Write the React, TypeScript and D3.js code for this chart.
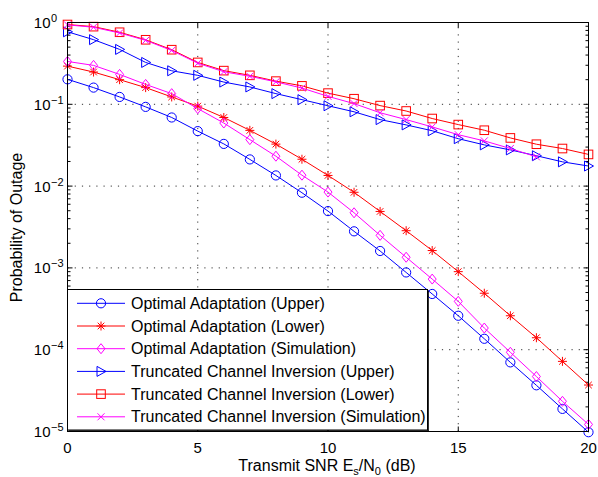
import React from 'react';
import * as d3 from 'd3';

// SNR in dB (x axis)
const snrDb = [0, 1, 2, 3, 4, 5, 6, 7, 8, 9, 10, 11, 12, 13, 14, 15, 16, 17, 18, 19, 20];
const snrSim = [0, 1, 2, 3, 4, 5, 6, 7, 8, 9, 10, 11, 12, 13, 14, 15, 16, 17, 18];

const optUpper = [0.202, 0.16, 0.123, 0.093, 0.069, 0.047, 0.0328, 0.0212, 0.0135, 0.0083, 0.00495,
  0.0028, 0.00161, 0.00088, 0.00048, 0.00026, 1.36e-4, 7.0e-5, 3.67e-5, 1.89e-5, 9.8e-6];
const optLower = [0.293, 0.248, 0.2, 0.16, 0.123, 0.095, 0.069, 0.048, 0.0326, 0.0213, 0.0135,
  0.0084, 0.0049, 0.00285, 0.00163, 0.0009, 0.00049, 0.00026, 1.4e-4, 7.2e-5, 3.7e-5];
const optSim = [0.334, 0.299, 0.232, 0.175, 0.135, 0.0886, 0.059, 0.037, 0.0232, 0.0136, 0.00845,
  0.00472, 0.0025, 0.00135, 7.3e-4, 3.9e-4, 1.84e-4, 9.3e-5, 4.7e-5, 2.34e-5, 1.22e-5];
const truncUpper = [0.77, 0.617, 0.469, 0.325, 0.257, 0.226, 0.187, 0.163, 0.135, 0.114, 0.096,
  0.081, 0.065, 0.056, 0.0475, 0.038, 0.0319, 0.0277, 0.0235, 0.0198, 0.0176];
const truncLower = [0.945, 0.89, 0.76, 0.615, 0.465, 0.325, 0.258, 0.226, 0.192, 0.168, 0.137,
  0.117, 0.0964, 0.0828, 0.067, 0.0565, 0.0482, 0.0388, 0.0325, 0.0288, 0.0244];
const truncSim = [0.935, 0.875, 0.745, 0.605, 0.455, 0.318, 0.25, 0.22, 0.188, 0.158, 0.125,
  0.102, 0.0788, 0.065, 0.0529, 0.0425, 0.0357, 0.0288, 0.0228];

const xTicks = [0, 5, 10, 15, 20];
const yExps = [0, -1, -2, -3, -4, -5];

const legendNames = [
  'Optimal Adaptation (Upper)',
  'Optimal Adaptation (Lower)',
  'Optimal Adaptation (Simulation)',
  'Truncated Channel Inversion (Upper)',
  'Truncated Channel Inversion (Lower)',
  'Truncated Channel Inversion (Simulation)',
];

const BLUE = '#0000ff', RED = '#ff0000', MAG = '#ff00ff';
const FONT = '"Liberation Sans", Arial, Helvetica, sans-serif';

const series = [
  { xs: snrDb, ys: optUpper, color: BLUE, marker: 'o' },
  { xs: snrDb, ys: optLower, color: RED, marker: '*' },
  { xs: snrDb, ys: optSim, color: MAG, marker: 'd' },
  { xs: snrDb, ys: truncUpper, color: BLUE, marker: '>' },
  { xs: snrDb, ys: truncLower, color: RED, marker: 's' },
  { xs: snrSim, ys: truncSim, color: MAG, marker: 'x' },
];

const x = d3.scaleLinear().domain([0, 20]).range([67.5, 588.5]);
const y = d3.scaleLog().domain([1e-5, 1]).range([431.5, 22.5]);

function Marker({ type, cx, cy, color }: { type: string; cx: number; cy: number; color: string }) {
  const p = { fill: 'none', stroke: color, strokeWidth: 1 };
  switch (type) {
    case 'o':
      return <circle cx={cx} cy={cy} r={4.6} {...p} />;
    case 's':
      return <rect x={cx - 4.3} y={cy - 4.3} width={8.6} height={8.6} {...p} />;
    case 'd':
      return <path d={`M${cx},${cy - 5}L${cx + 4},${cy}L${cx},${cy + 5}L${cx - 4},${cy}Z`} {...p} />;
    case '>':
      return <path d={`M${cx - 4},${cy - 5}L${cx + 5},${cy}L${cx - 4},${cy + 5}Z`} {...p} />;
    case 'x':
      return <path d={`M${cx - 3.5},${cy - 3.5}L${cx + 3.5},${cy + 3.5}M${cx - 3.5},${cy + 3.5}L${cx + 3.5},${cy - 3.5}`} {...p} />;
    case '*':
      return <path d={`M${cx - 4.5},${cy}L${cx + 4.5},${cy}M${cx},${cy - 4.5}L${cx},${cy + 4.5}M${cx - 3.3},${cy - 3.3}L${cx + 3.3},${cy + 3.3}M${cx - 3.3},${cy + 3.3}L${cx + 3.3},${cy - 3.3}`} {...p} />;
  }
  return null;
}

export default function App() {
  const [x0, x1] = x.range();
  const [y0, y1] = y.range(); // y0 bottom, y1 top
  const line = d3.line<[number, number]>().x(d => x(d[0])).y(d => y(d[1]));

  const minorTicks: number[] = [];
  for (let e = -5; e < 0; e++) for (let m = 2; m <= 9; m++) minorTicks.push(m * Math.pow(10, e));

  const legX = 67.5, legY = 289.5, legW = 360, legH = 140.5;
  const rowY = (i: number) => 303.3 + i * 22.7;

  return (
    <svg width={598} height={477} style={{ position: 'absolute', left: 0, top: 0, background: '#fff' }} fontFamily={FONT}>
      <rect x={0} y={0} width={598} height={477} fill="#fff" />
      {/* grid */}
      <g stroke="#333" strokeWidth={1} strokeDasharray="1.2,6">
        {xTicks.slice(1, -1).map(t => (
          <line key={'gx' + t} x1={x(t)} x2={x(t)} y1={y0} y2={y1} />
        ))}
        {yExps.slice(1, -1).map(e => (
          <line key={'gy' + e} x1={x0} x2={x1} y1={y(Math.pow(10, e))} y2={y(Math.pow(10, e))} />
        ))}
      </g>
      {/* ticks */}
      <g stroke="#000" strokeWidth={1}>
        {xTicks.map(t => (
          <g key={'tx' + t}>
            <line x1={x(t)} x2={x(t)} y1={y0} y2={y0 - 5} />
            <line x1={x(t)} x2={x(t)} y1={y1} y2={y1 + 5} />
          </g>
        ))}
        {yExps.map(e => (
          <g key={'ty' + e}>
            <line x1={x0} x2={x0 + 5} y1={y(Math.pow(10, e))} y2={y(Math.pow(10, e))} />
            <line x1={x1} x2={x1 - 5} y1={y(Math.pow(10, e))} y2={y(Math.pow(10, e))} />
          </g>
        ))}
        {minorTicks.map((v, i) => (
          <g key={'mt' + i}>
            <line x1={x0} x2={x0 + 3} y1={y(v)} y2={y(v)} />
            <line x1={x1} x2={x1 - 3} y1={y(v)} y2={y(v)} />
          </g>
        ))}
      </g>
      {/* series */}
      {series.map((s, i) => {
        const pts = s.xs.map((v, j) => [v, s.ys[j]] as [number, number]);
        return (
          <g key={'s' + i}>
            <path d={line(pts) || ''} fill="none" stroke={s.color} strokeWidth={1} />
            {pts.map((p, j) => (
              <Marker key={j} type={s.marker} cx={x(p[0])} cy={y(p[1])} color={s.color} />
            ))}
          </g>
        );
      })}
      {/* axes box */}
      <rect x={x0} y={y1} width={x1 - x0} height={y0 - y1} fill="none" stroke="#000" strokeWidth={1} />
      {/* tick labels */}
      <g fontSize={15} fill="#000">
        {xTicks.map(t => (
          <text key={'lx' + t} x={x(t)} y={453} textAnchor="middle">{t}</text>
        ))}
        {yExps.map(e => (
          <g key={'ly' + e}>
            <text x={50.5} y={y(Math.pow(10, e)) + 5.5} textAnchor="end">10</text>
            <text x={51} y={y(Math.pow(10, e)) - 0.5} fontSize={11}>{e === 0 ? '0' : '\u2212' + -e}</text>
          </g>
        ))}
      </g>
      {/* axis labels */}
      <text x={327} y={471} textAnchor="middle" fontSize={16}>
        Transmit SNR E<tspan fontSize={11} dy={4}>s</tspan>
        <tspan dy={-4}>/N</tspan><tspan fontSize={11} dy={4}>0</tspan>
        <tspan dy={-4}> (dB)</tspan>
      </text>
      <text transform="translate(22,227.5) rotate(-90)" textAnchor="middle" fontSize={16}>Probability of Outage</text>
      {/* legend */}
      <rect x={legX} y={legY} width={legW} height={legH} fill="#fff" stroke="#000" strokeWidth={1} />
      <line x1={legX + legW + 0.8} x2={legX + legW + 0.8} y1={legY + 1} y2={legY + legH + 1} stroke="#000" strokeWidth={1} />
      <line x1={legX + 1} x2={legX + legW + 1} y1={legY + legH + 0.8} y2={legY + legH + 0.8} stroke="#000" strokeWidth={1} />
      {series.map((s, i) => (
        <g key={'lg' + i}>
          <line x1={77} x2={125} y1={rowY(i)} y2={rowY(i)} stroke={s.color} strokeWidth={1} />
          <Marker type={s.marker} cx={101} cy={rowY(i)} color={s.color} />
          <text x={131} y={rowY(i) + 5.5} fontSize={16}>{legendNames[i]}</text>
        </g>
      ))}
    </svg>
  );
}
